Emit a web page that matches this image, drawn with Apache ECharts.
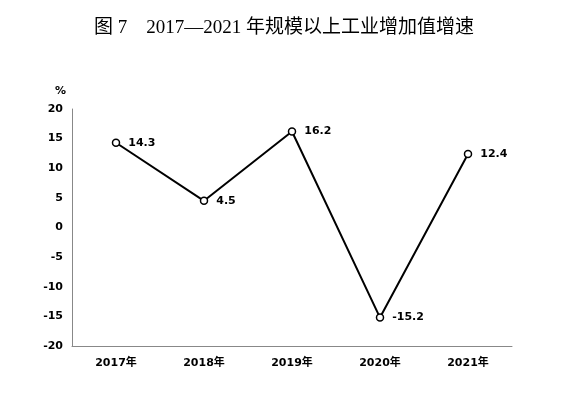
<!DOCTYPE html>
<html><head><meta charset="utf-8">
<script src="https://cdn.jsdelivr.net/npm/echarts@6/dist/echarts.min.js"></script>
<style>html,body{margin:0;padding:0;background:#fff}#c{width:571px;height:393px}</style>
</head><body><div id="c"></div>
<script>
const categories = ['2017年','2018年','2019年','2020年','2021年'];
const growth = [14.3, 4.5, 16.2, -15.2, 12.4];
const yTicks = {min: -20, max: 20, interval: 5};
const titleText = '图 7    2017—2021 年规模以上工业增加值增速';

const chart = echarts.init(document.getElementById('c'));
chart.setOption({
  animation: false,
  backgroundColor: '#fff',
  title: {
    text: titleText, left: 89, top: 14,
    textStyle: {fontFamily: '"Liberation Serif","Noto Sans CJK SC"', fontSize: 19, fontWeight: 'normal', color: '#000'}
  },
  grid: {left: 72, right: 59, top: 109, bottom: 47, containLabel: false},
  xAxis: {
    type: 'category', data: categories, boundaryGap: true,
    axisLine: {onZero: false, lineStyle: {color: '#888', width: 1}},
    axisTick: {show: false},
    axisLabel: {margin: 12, color: '#000', fontWeight: 'bold', fontSize: 11, fontFamily: '"DejaVu Sans","Noto Sans CJK SC"'}
  },
  yAxis: {
    type: 'value', min: yTicks.min, max: yTicks.max, interval: yTicks.interval,
    name: '%', nameLocation: 'end', nameGap: 12,
    nameTextStyle: {color: '#000', fontWeight: 'bold', fontSize: 11, fontFamily: '"DejaVu Sans"', align: 'right', padding: [0, 6, 0, 0]},
    axisLine: {show: true, lineStyle: {color: '#888', width: 1}},
    axisTick: {show: false},
    splitLine: {show: false},
    axisLabel: {margin: 9, color: '#000', fontWeight: 'bold', fontSize: 11, fontFamily: '"DejaVu Sans"'}
  },
  series: [{
    type: 'line', data: growth,
    symbol: 'circle', symbolSize: 7,
    itemStyle: {color: '#fff', borderColor: '#000', borderWidth: 1.5},
    lineStyle: {color: '#000', width: 2},
    label: {show: true, position: 'right', distance: 8, color: '#000', fontWeight: 'bold', fontSize: 11, fontFamily: '"DejaVu Sans"', formatter: p => p.value.toFixed(1)}
  }]
});
</script></body></html>
